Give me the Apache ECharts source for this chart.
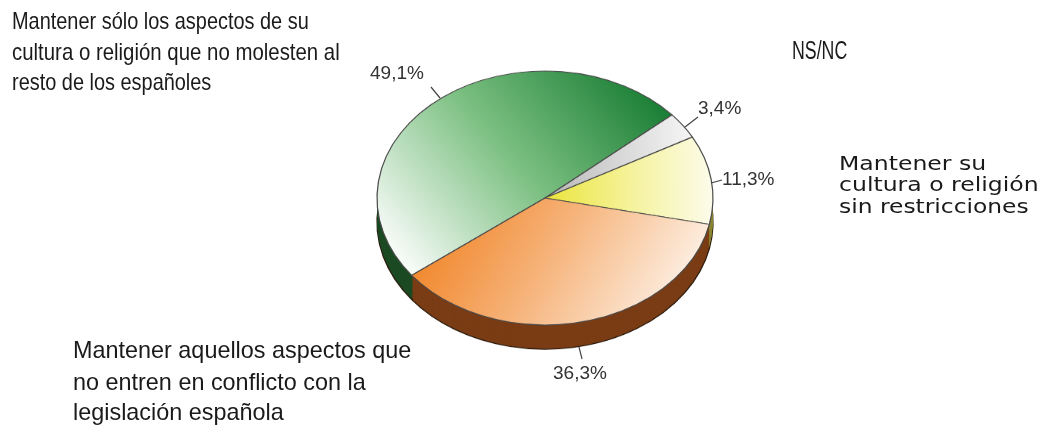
<!DOCTYPE html>
<html>
<head>
<meta charset="utf-8">
<script src="https://cdn.jsdelivr.net/npm/echarts@6/dist/echarts.min.js"></script>
<style>
  html, body { margin: 0; padding: 0; background: #fff; }
  #wrap { position: relative; width: 1048px; height: 437px; overflow: hidden; }
  /* el pastel se dibuja como círculo y se aplasta en vertical para dar la inclinación 3D */
  #pie { position: absolute; left: 0; top: 0; width: 1048px; height: 560px;
         transform-origin: 0 0; transform: matrix(1, 0, 0, 0.756, 0, 46.8); }
  #labels { position: absolute; left: 0; top: 0; width: 1048px; height: 437px; }
</style>
</head>
<body>
<div id="wrap"><div id="pie"></div><div id="labels"></div></div>
<script>
// datos
const categories = [
  'Mantener sólo los aspectos de su cultura o religión que no molesten al resto de los españoles',
  'NS/NC',
  'Mantener su cultura o religión sin restricciones',
  'Mantener aquellos aspectos que no entren en conflicto con la legislación española'
]
const values = [49.1, 3.4, 11.3, 36.3]

const G = echarts.graphic.LinearGradient
// colores de la cara superior
const topColors = [
  new G(0, 0.85, 1, 0.15, [{ offset: 0, color: '#ffffff' }, { offset: 0.5, color: '#7cc082' }, { offset: 1, color: '#147a30' }]),
  new G(0, 0.5, 1, 0.5, [{ offset: 0, color: '#b8b8b8' }, { offset: 1, color: '#f6f6f6' }]),
  new G(0, 0.5, 1, 0.5, [{ offset: 0, color: '#ebe53a' }, { offset: 0.5, color: '#f5f29a' }, { offset: 1, color: '#fcfcec' }]),
  new G(0, 0.1, 1, 0.9, [{ offset: 0, color: '#f07c18' }, { offset: 0.45, color: '#f6b278' }, { offset: 1, color: '#ffffff' }])
]
// colores del lateral
const sideColors = ['#1b4a22', '#6e6e6e', '#8a8630', '#7a3c14']

const cx = 545, cy = 200, r = 168, depth = 32, start = 217.5

var pieChart = echarts.init(document.getElementById('pie'))
var series = []
// capas del lateral, de abajo arriba
for (let d = depth; d > 0; d -= 3) {
  series.push({
    type: 'pie', silent: true, center: [cx, cy + d], radius: r, startAngle: start,
    label: { show: false }, labelLine: { show: false },
    data: values.map((v, i) => ({
      name: categories[i], value: v,
      itemStyle: { color: sideColors[i], borderColor: d === depth ? '#2a1a0c' : sideColors[i], borderWidth: d === depth ? 1.3 : 0 }
    }))
  })
}
// cara superior
series.push({
  type: 'pie', silent: true, center: [cx, cy], radius: r, startAngle: start,
  label: { show: false }, labelLine: { show: false },
  data: values.map((v, i) => ({
    name: categories[i], value: v,
    itemStyle: { color: topColors[i], borderColor: '#4a4a4a', borderWidth: 1.2 }
  }))
})
pieChart.setOption({ animation: false, series: series })

// textos
const pct = v => v.toFixed(1).replace('.', ',') + '%'
function txt(x, y, s, size, family, sx, color) {
  return {
    type: 'text', x: x, y: y, scaleX: sx, silent: true,
    style: { text: s, fontSize: size, fontFamily: family, fill: color || '#1a1a1a', verticalAlign: 'middle', align: 'left' }
  }
}
function line(x1, y1, x2, y2) {
  return { type: 'line', silent: true, shape: { x1: x1, y1: y1, x2: x2, y2: y2 }, style: { stroke: '#444', lineWidth: 1.2 } }
}
const arial = 'Liberation Sans, Arial, sans-serif'
const wide = 'DejaVu Sans, Verdana, sans-serif'

var labelChart = echarts.init(document.getElementById('labels'))
labelChart.setOption({
  animation: false,
  graphic: [
    txt(12, 22, 'Mantener sólo los aspectos de su', 24, arial, 0.83),
    txt(12, 53, 'cultura o religión que no molesten al', 24, arial, 0.85),
    txt(12, 83.5, 'resto de los españoles', 24, arial, 0.83),
    txt(792, 52.5, categories[1], 25, arial, 0.71),
    txt(839, 165, 'Mantener su', 19, wide, 1.24),
    txt(839, 186.5, 'cultura o religión', 19, wide, 1.24),
    txt(839, 208, 'sin restricciones', 19, wide, 1.23),
    txt(73, 351.5, 'Mantener aquellos aspectos que', 24, arial, 0.975),
    txt(73, 383.5, 'no entren en conflicto con la', 24, arial, 0.975),
    txt(73, 413.5, 'legislación española', 24, arial, 0.975),
    txt(370, 74, pct(values[0]), 19, arial, 1, '#333'),
    txt(698, 108.5, pct(values[1]), 19, arial, 1, '#333'),
    txt(722, 180, pct(values[2]), 19, arial, 1, '#333'),
    txt(553, 374, pct(values[3]), 19, arial, 1, '#333'),
    line(431, 87, 440, 98),
    line(685, 127, 698, 117),
    line(711, 183, 722, 180),
    line(579, 347, 582, 359)
  ]
})
</script>
</body>
</html>
